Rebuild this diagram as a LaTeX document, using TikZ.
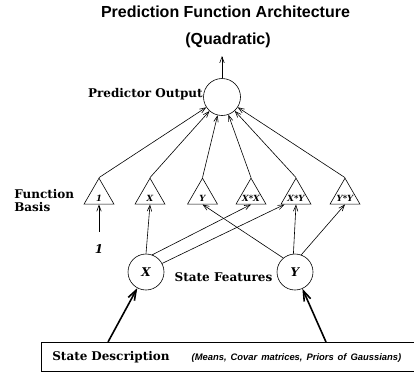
\documentclass[tikz,border=0pt]{standalone}
\usepackage{fontspec}
\setmainfont{DejaVu Serif}
\setsansfont{Liberation Sans}
\usetikzlibrary{shapes.geometric,arrows.meta}
\begin{document}
\begin{tikzpicture}[
        x=1pt, y=-1pt,
        line width=0.6pt,
        >={Straight Barb[length=6pt,width=4.5pt]},
        font=\bfseries\fontsize{12}{13}\selectfont,
        basis/.style = {draw, regular polygon, regular polygon sides=3,
            minimum size=34.6pt, inner sep=0pt},
        basislab/.style = {font=\bfseries\itshape\fontsize{8.5}{9}\selectfont,
            yshift=-2.5pt, inner sep=0pt},
        feature/.style = {draw, circle, minimum size=#1, inner sep=0pt,
            font=\bfseries\itshape\fontsize{12}{13}\selectfont},
        heavy/.style = {line width=1.6pt, -{Straight Barb[length=10pt,width=7pt]}},
        title/.style = {font=\sffamily\bfseries\fontsize{16}{18}\selectfont}
    ]
        \useasboundingbox (0,0) rectangle (414,373);

        \node[title] (T1) at (225.5,12) {Prediction Function Architecture};
        \node[title] (T2) at (228,40) {(Quadratic)};

        \node[feature=37pt] (Out) at (222,97) {};
        \coordinate (Up) at (222,56);
        \node[anchor=east, inner sep=0pt] (OutLab) at (203,94) {Predictor Output};

        \node[basis, label={[basislab]center:1}]   (B1)  at ( 99,195.5) {};
        \node[basis, label={[basislab]center:X}]   (BX)  at (150,195.5) {};
        \node[basis, label={[basislab]center:Y}]   (BY)  at (202.5,195.5) {};
        \node[basis, label={[basislab]center:X*X}] (BXX) at (251,195.5) {};
        \node[basis, label={[basislab]center:X*Y}] (BXY) at (296,195.5) {};
        \node[basis, label={[basislab]center:Y*Y}] (BYY) at (345,195.5) {};
        \node[anchor=west, align=left, inner sep=0pt] (FB) at (14,200.5) {Function\\Basis};

        \node[font=\bfseries\itshape\fontsize{12}{13}\selectfont] (One) at (99,249) {1};

        \node[feature=36pt] (X) at (146,272) {X};
        \node[feature=36pt] (Y) at (295,272) {Y};
        \node (SF) at (223.5,277) {State Features};

        \node[draw, anchor=north west, minimum height=29pt, text width=362pt,
            inner xsep=11pt, align=left] (Desc) at (41,342)
            {State Description\hspace{22pt}{\sffamily\itshape\fontsize{9.4}{11}\selectfont(Means, Covar matrices, Priors of Gaussians)}};
        \coordinate (DX) at (108,342);
        \coordinate (DY) at (326,342);

        \draw[->] (Out) -- (Up);
        \foreach \b in {B1,BX,BY,BXX,BXY,BYY}
            \draw[->] (\b.corner 1) -- (Out);
        \draw[->, shorten <=9pt] (One) -- (B1.south);
        \draw[->] (X.north) -- (BX.south);
        \draw[->] (X.70) -- (BXX.south);
        \draw[->] (X.28) -- ([xshift=4pt]BXY.corner 2);
        \draw[->] (Y.130) -- (BY.south);
        \draw[->] (Y.95) -- (BXY.south);
        \draw[->] (Y.70) -- (BYY.south);
        \draw[heavy] (DX) -- (X);
        \draw[heavy] (DY) -- (Y);
    \end{tikzpicture}
\end{document}
